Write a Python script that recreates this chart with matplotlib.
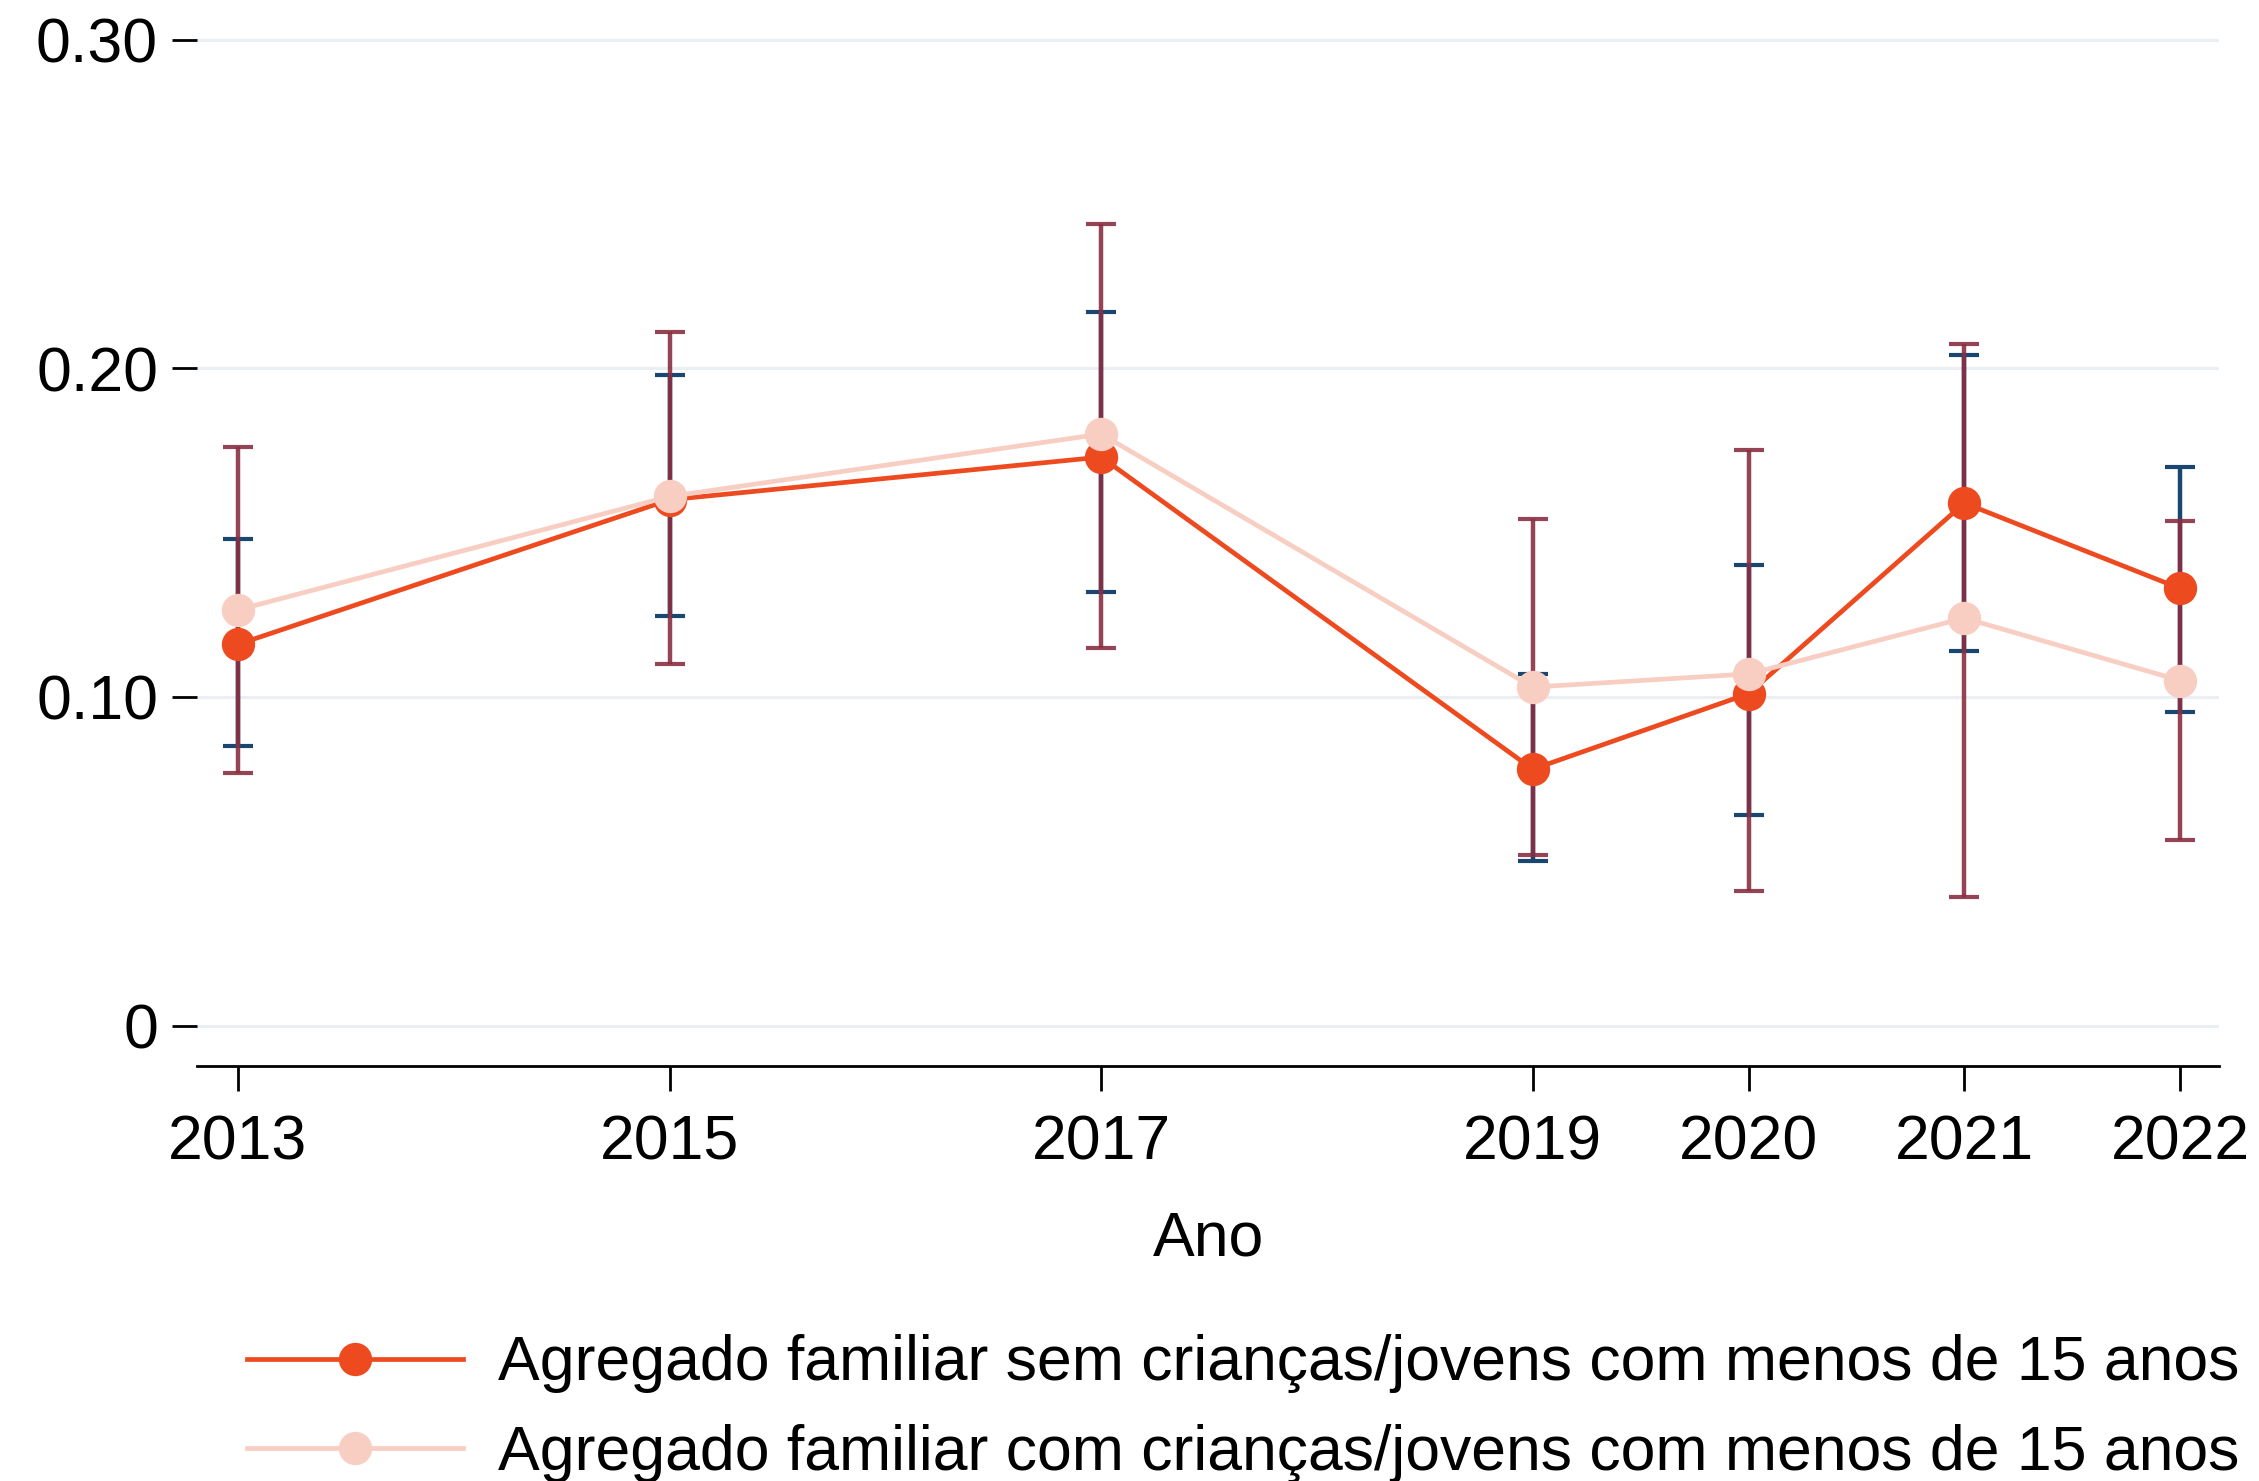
import matplotlib
matplotlib.use("Agg")
import matplotlib.pyplot as plt
from matplotlib.lines import Line2D

plt.rcParams["font.family"] = ["Liberation Sans", "DejaVu Sans"]

# Survey years
years = [2013, 2015, 2017, 2019, 2020, 2021, 2022]

# Households without children/young people under 15
sem_mean = [0.116, 0.160, 0.173, 0.078, 0.101, 0.159, 0.133]
sem_lo = [0.085, 0.1245, 0.132, 0.050, 0.064, 0.114, 0.0955]
sem_hi = [0.148, 0.198, 0.217, 0.107, 0.140, 0.204, 0.170]

# Households with children/young people under 15
com_mean = [0.1265, 0.161, 0.180, 0.103, 0.107, 0.124, 0.105]
com_lo = [0.077, 0.110, 0.115, 0.052, 0.041, 0.039, 0.0565]
com_hi = [0.176, 0.211, 0.244, 0.154, 0.175, 0.2075, 0.1535]

y_ticks = [0.0, 0.10, 0.20, 0.30]
y_tick_labels = ["0", "0.10", "0.20", "0.30"]

labels = [
    "Agregado familiar sem crianças/jovens com menos de 15 anos",
    "Agregado familiar com crianças/jovens com menos de 15 anos",
]

C_SEM = "#ee4a20"
C_COM = "#f8cdc2"
C_NAVY = "#1a476f"
C_MAROON = "#8a2f42"
C_GRID = "#e9eff2"

FS = 45

fig = plt.figure(figsize=(22.59, 14.81), dpi=100)
ax = fig.add_axes([0.0872, 0.2802, 0.8951, 0.7130])

for y in y_ticks:
    ax.axhline(y, color=C_GRID, lw=2.2, zorder=0)

def err(mean, lo, hi):
    return [[m - l for m, l in zip(mean, lo)], [h - m for m, h in zip(mean, hi)]]

ax.errorbar(years, sem_mean, yerr=err(sem_mean, sem_lo, sem_hi), fmt="none",
            ecolor=C_NAVY, elinewidth=3.2, capsize=11, capthick=3.0, zorder=2)
ax.errorbar(years, com_mean, yerr=err(com_mean, com_lo, com_hi), fmt="none",
            ecolor=C_MAROON, elinewidth=3.2, capsize=11, capthick=3.0, alpha=0.9, zorder=3)

ax.plot(years, sem_mean, color=C_SEM, lw=3.4, marker="o", ms=24,
        markeredgewidth=0, zorder=4)
ax.plot(years, com_mean, color=C_COM, lw=3.4, marker="o", ms=24,
        markeredgewidth=0, zorder=5)

ax.set_xlim(2012.81, 2022.18)
ax.set_ylim(-0.0123, 0.309)

ax.set_xticks(years)
ax.set_xticklabels([str(y) for y in years], fontsize=FS)
ax.set_yticks(y_ticks)
ax.set_yticklabels(y_tick_labels, fontsize=FS)
ax.tick_params(axis="x", length=18, width=2, pad=16, color="black")
ax.tick_params(axis="y", length=18, width=2, pad=10, color="black")

for s in ["top", "right", "left"]:
    ax.spines[s].set_visible(False)
ax.spines["bottom"].set_linewidth(2)

ax.set_xlabel("Ano", fontsize=FS, labelpad=27)

handles = [
    Line2D([0], [0], color=C_SEM, lw=3.4, marker="o", ms=24, markeredgewidth=0),
    Line2D([0], [0], color=C_COM, lw=3.4, marker="o", ms=24, markeredgewidth=0),
]
fig.legend(handles, labels, loc="upper left", bbox_to_anchor=(0.1095, 0.099),
           fontsize=45, frameon=False, handlelength=3.45, handletextpad=0.56,
           labelspacing=0.49, borderpad=0, borderaxespad=0)

fig.savefig("out.png", dpi=100)
